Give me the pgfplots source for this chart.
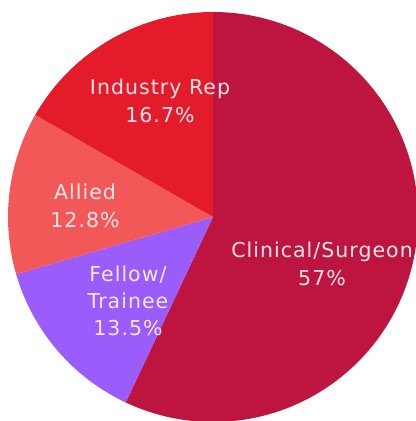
\documentclass[border=0pt]{standalone}
\usepackage{pgfplots}
\pgfplotsset{compat=1.18}
\usepackage{fontspec}
\setmainfont{DejaVu Sans}[LetterSpace=5]
\definecolor{clin}{HTML}{BE1440}
\definecolor{fel}{HTML}{9A5CFA}
\definecolor{all}{HTML}{F35858}
\definecolor{ind}{HTML}{E41B2A}
\definecolor{lab}{HTML}{F8E6EA}
\begin{document}
\begin{tikzpicture}
\path[use as bounding box] (0,0) rectangle (12.48cm,12.63cm);
\clip (0,0) rectangle (12.48cm,12.63cm);
\begin{axis}[
  at={(0,0)}, anchor=south west,
  scale only axis, width=12.48cm, height=12.63cm,
  xmin=-213, xmax=203, ymin=-204, ymax=217,
  hide axis, clip=false,
]
% values in percent: Clinical/Surgeon 57, Fellow/Trainee 13.5, Allied 12.8, Industry Rep 16.7
\addplot[draw=none] coordinates {(0,0)};
\fill[clin] (axis cs:0,0) -- (axis cs:0,205) arc[start angle=90, delta angle={-57*3.6}, radius=6.15cm] -- cycle;
\fill[fel] (axis cs:0,0) -- ({axis cs:{205*cos(90-57*3.6)},{205*sin(90-57*3.6)}}) arc[start angle={90-57*3.6}, delta angle={-13.5*3.6}, radius=6.15cm] -- cycle;
\fill[all] (axis cs:0,0) -- ({axis cs:{205*cos(90-70.5*3.6)},{205*sin(90-70.5*3.6)}}) arc[start angle={90-70.5*3.6}, delta angle={-12.8*3.6}, radius=6.15cm] -- cycle;
\fill[ind] (axis cs:0,0) -- ({axis cs:{205*cos(90-83.3*3.6)},{205*sin(90-83.3*3.6)}}) arc[start angle={90-83.3*3.6}, delta angle={-16.7*3.6}, radius=6.15cm] -- cycle;
\begin{scope}[every node/.style={text=lab, align=center, font=\fontsize{17.5}{23.3}\selectfont}]
\node at (axis cs:-53,116) {Industry Rep\\16.7\%};
\node at (axis cs:-128,11) {Allied\\12.8\%};
\node at (axis cs:-85,-84) {Fellow/\\Trainee\\13.5\%};
\node at (axis cs:109,-47) {Clinical/Surgeon\\57\%};
\end{scope}
\end{axis}
\end{tikzpicture}
\end{document}
